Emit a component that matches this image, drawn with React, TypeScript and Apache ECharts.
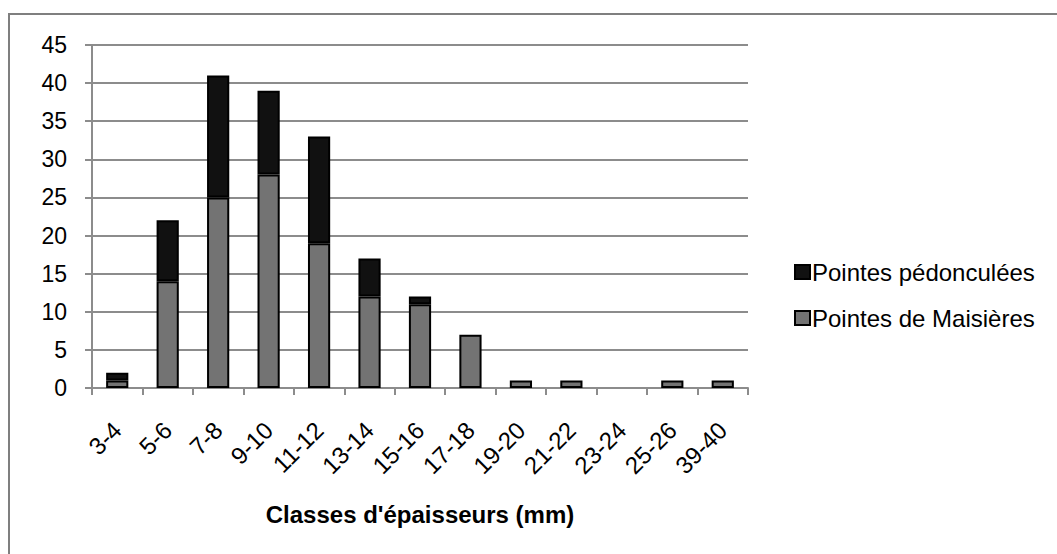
import React, { useEffect, useRef } from "react";
import * as echarts from "echarts";

const categories = ["3-4", "5-6", "7-8", "9-10", "11-12", "13-14", "15-16", "17-18", "19-20", "21-22", "23-24", "25-26", "39-40"];
const maisieres = [1, 14, 25, 28, 19, 12, 11, 7, 1, 1, 0, 1, 1];
const pedonculees = [1, 8, 16, 11, 14, 5, 1, 0, 0, 0, 0, 0, 0];
const yTicks = { min: 0, max: 45, interval: 5 };

const FONT = "'Liberation Sans', Arial, sans-serif";
const hideZero = (arr: number[]) => arr.map((v) => (v === 0 ? "-" : v));

export default function App() {
  const ref = useRef<HTMLDivElement>(null);
  useEffect(() => {
    if (!ref.current) return;
    const chart = echarts.init(ref.current, null, { renderer: "svg" });
    chart.setOption({
      animation: false,
      backgroundColor: "#ffffff",
      textStyle: { fontFamily: FONT },
      graphic: [
        {
          type: "rect",
          shape: { x: 9, y: 14, width: 1200, height: 700 },
          style: { fill: "none", stroke: "#7f7f7f", lineWidth: 2 },
          silent: true,
        },
      ],
      grid: { left: 92, right: 309, top: 45, bottom: 166, containLabel: false },
      legend: {
        orient: "vertical",
        left: 789,
        top: 255,
        itemWidth: 15,
        itemHeight: 14,
        itemGap: 22,
        icon: "rect",
        data: ["Pointes pédonculées", "Pointes de Maisières"],
        textStyle: { fontFamily: FONT, fontSize: 24, color: "#000", padding: [0, 0, 0, -3] },
      },
      xAxis: {
        type: "category",
        data: categories,
        name: "Classes d'épaisseurs (mm)",
        nameLocation: "middle",
        nameGap: 114,
        nameTextStyle: { fontFamily: FONT, fontSize: 24, fontWeight: "bold", color: "#000" },
        axisLine: { lineStyle: { color: "#8c8c8c", width: 2 } },
        axisTick: { show: true, alignWithLabel: false, length: 7, lineStyle: { color: "#8c8c8c", width: 2 } },
        axisLabel: { rotate: 45, margin: 38, fontSize: 24, color: "#000", fontFamily: FONT, interval: 0 },
        splitLine: { show: false },
      },
      yAxis: {
        type: "value",
        min: yTicks.min,
        max: yTicks.max,
        interval: yTicks.interval,
        axisLine: { show: true, lineStyle: { color: "#8c8c8c", width: 2 } },
        axisTick: { show: true, length: 7, lineStyle: { color: "#8c8c8c", width: 2 } },
        axisLabel: { fontSize: 23, color: "#000", fontFamily: FONT, margin: 25 },
        splitLine: { lineStyle: { color: "#8c8c8c", width: 2 } },
      },
      series: [
        {
          name: "Pointes de Maisières",
          type: "bar",
          stack: "total",
          data: hideZero(maisieres),
          barWidth: "44%",
          itemStyle: { color: "#737373", borderColor: "#000", borderWidth: 2 },
        },
        {
          name: "Pointes pédonculées",
          type: "bar",
          stack: "total",
          data: hideZero(pedonculees),
          barWidth: "44%",
          itemStyle: { color: "#111111", borderColor: "#000", borderWidth: 2 },
        },
      ],
    });
    return () => chart.dispose();
  }, []);
  return (
    <div
      ref={ref}
      style={{ position: "absolute", left: 0, top: 0, width: 1057, height: 554 }}
    />
  );
}
